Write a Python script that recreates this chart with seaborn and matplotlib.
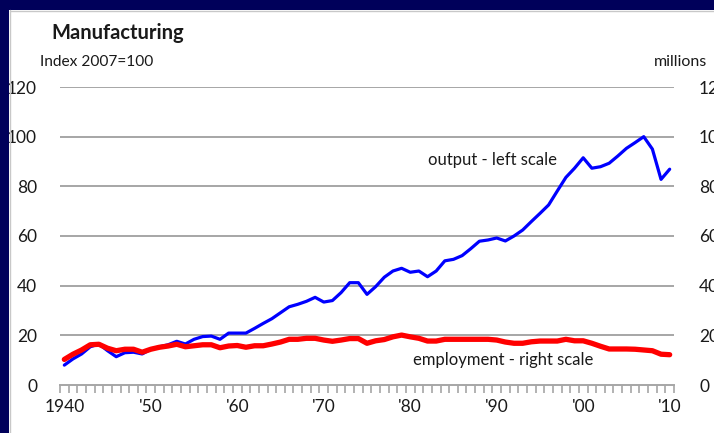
import matplotlib
matplotlib.use("Agg")
import matplotlib.pyplot as plt
import matplotlib.patches as patches
from matplotlib.ticker import FixedLocator
import seaborn as sns
import pandas as pd

sns.set_style("white")
plt.rcParams['font.family'] = ['Lato', 'DejaVu Sans']

years = list(range(1940, 2011))

# manufacturing output, index 2007=100 (left scale)
output = [8.0, 10.5, 12.5, 15.4, 16.5, 13.8, 11.4, 13.0, 13.2, 12.5,
          14.4, 15.4, 16.2, 17.6, 16.5, 18.4, 19.5, 19.7, 18.4, 20.9,
          20.9, 20.9, 22.8, 24.8, 26.7, 29.1, 31.5, 32.5, 33.7, 35.3,
          33.4, 34.0, 37.2, 41.2, 41.2, 36.5, 39.6, 43.4, 45.9, 47.0,
          45.4, 45.9, 43.6, 45.9, 50.0, 50.6, 52.1, 54.9, 57.9, 58.4,
          59.2, 58.0, 60.0, 62.4, 65.8, 69.1, 72.5, 78.1, 83.6, 87.3,
          91.5, 87.3, 87.9, 89.3, 92.2, 95.3, 97.6, 100.0, 95.0, 82.8,
          86.9]

# manufacturing employment, millions (right scale)
employment = [10.3, 12.4, 14.1, 16.2, 16.4, 14.8, 13.8, 14.4, 14.4, 13.2,
              14.4, 15.2, 15.7, 16.4, 15.4, 15.8, 16.2, 16.2, 15.0, 15.7,
              15.9, 15.2, 15.8, 15.8, 16.5, 17.3, 18.4, 18.4, 18.8, 18.8,
              18.1, 17.6, 18.1, 18.7, 18.7, 16.8, 17.8, 18.3, 19.4, 20.1,
              19.4, 18.8, 17.7, 17.7, 18.4, 18.4, 18.4, 18.4, 18.4, 18.4,
              18.1, 17.3, 16.8, 16.8, 17.4, 17.7, 17.7, 17.7, 18.4, 17.8,
              17.8, 16.8, 15.6, 14.5, 14.5, 14.5, 14.4, 14.1, 13.8, 12.4,
              12.2]

label_years = [1940, 1950, 1960, 1970, 1980, 1990, 2000, 2010]
label_text = ["1940", "'50", "'60", "'70", "'80", "'90", "'00", "'10"]
y_ticks = [0, 20, 40, 60, 80, 100, 120]

df = pd.DataFrame({"year": years, "output": output, "employment": employment})

W, H = 714, 433
fig = plt.figure(figsize=(W / 100, H / 100), dpi=100)
fig.patch.set_facecolor("white")
navy = "#00005a"
# slide background strips on the left and top
fig.patches.append(patches.Rectangle((0, 0), 9 / W, 1, transform=fig.transFigure,
                                     facecolor=navy, edgecolor="none"))
fig.patches.append(patches.Rectangle((0, (H - 10) / H), 1, 10 / H,
                                     transform=fig.transFigure,
                                     facecolor=navy, edgecolor="none"))
fig.lines.append(plt.Line2D([9.5 / W, 9.5 / W], [0, (H - 10) / H],
                            transform=fig.transFigure, color="#c8c8c8", lw=1))
fig.lines.append(plt.Line2D([9.5 / W, 1], [(H - 10.5) / H, (H - 10.5) / H],
                            transform=fig.transFigure, color="#c8c8c8", lw=1))

ax = fig.add_axes([60 / W, 48 / H, 614 / W, 298 / H])
ax.set_facecolor("none")
ax2 = ax.twinx()

grid_c = "#a6a6a6"
txt_c = "#1a1a1a"
for v in y_ticks[1:]:
    ax.axhline(v, color=grid_c, linewidth=1.4, zorder=1)

sns.lineplot(data=df, x="year", y="output", ax=ax, color="#0000ff",
             linewidth=2.3, zorder=3)
sns.lineplot(data=df, x="year", y="employment", ax=ax2, color="#ff0000",
             linewidth=3.8, zorder=4)

for a in (ax, ax2):
    a.set_xlim(1939.5, 2010.5)
    a.set_ylim(0, 120)
    a.set_xlabel("")
    a.set_ylabel("")
    for s in a.spines.values():
        s.set_visible(False)

ax.spines["bottom"].set_visible(True)
ax.spines["bottom"].set_color(grid_c)
ax.spines["bottom"].set_linewidth(1.4)

ax.set_yticks(y_ticks)
ax.tick_params(axis="y", left=False, right=False, pad=13, labelsize=12.5,
               labelcolor=txt_c)
ax2.set_yticks(y_ticks)
ax2.tick_params(axis="y", left=False, right=False, pad=14.5, labelsize=12.5,
                labelcolor=txt_c)

ax.set_xticks(label_years)
ax.set_xticklabels(label_text)
ax.xaxis.set_minor_locator(FixedLocator([y - 0.5 for y in years] + [2010.5]))
ax.tick_params(axis="x", which="major", length=0, pad=10, labelsize=12.5,
               labelcolor=txt_c)
ax.tick_params(axis="x", which="minor", bottom=True, length=6, width=1.2,
               color=grid_c, direction="out")

ax2.text(1982.0, 90.6, "output - left scale", fontsize=12, va="center",
         color=txt_c)
ax2.text(1980.3, 10.1, "employment - right scale", fontsize=12, va="center",
         color=txt_c)

fig.text(51 / W, (H - 33) / H, "Manufacturing", fontsize=14.5, fontweight="bold",
         va="center", color=txt_c)
fig.text(40 / W, (H - 62) / H, "Index 2007=100", fontsize=11.2, va="center",
         color=txt_c)
fig.text(654 / W, (H - 62) / H, "millions", fontsize=11.5, va="center",
         color=txt_c)

fig.savefig("out.png", dpi=100, facecolor=fig.get_facecolor())
